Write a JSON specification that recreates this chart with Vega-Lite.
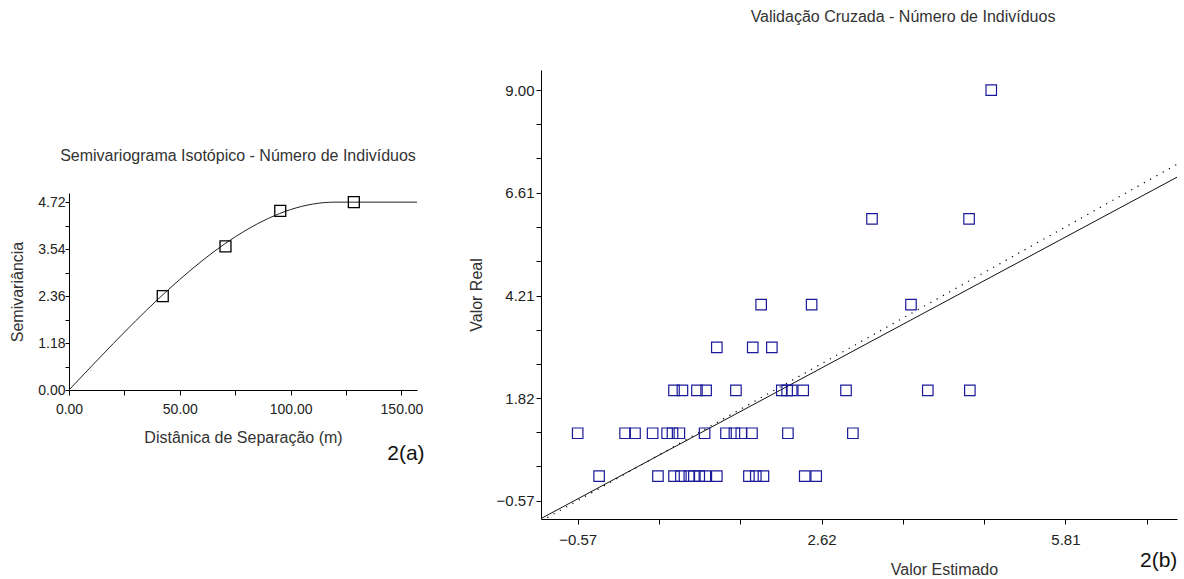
{
  "$schema": "https://vega.github.io/schema/vega-lite/v6.json",
  "background": "white",
  "padding": {"left": 9, "top": 9, "right": 0, "bottom": 0},
  "config": {
    "view": {"stroke": null},
    "font": "Liberation Sans",
    "axis": {
      "domainColor": "#000000",
      "tickColor": "#000000",
      "grid": false,
      "tickSize": 5,
      "labelOverlap": false,
      "labelColor": "#222222",
      "titleColor": "#333333",
      "titleFontWeight": "normal",
      "labelFont": "Liberation Sans",
      "titleFont": "Liberation Sans"
    },
    "title": {"font": "Liberation Sans", "fontWeight": "normal", "fontSize": 16, "color": "#333333"}
  },
  "datasets": {
    "curve": [
      {"h": 0, "gamma": 0},
      {"h": 10, "gamma": 0.589},
      {"h": 20, "gamma": 1.169},
      {"h": 30, "gamma": 1.733},
      {"h": 40, "gamma": 2.273},
      {"h": 50, "gamma": 2.779},
      {"h": 60, "gamma": 3.245},
      {"h": 70, "gamma": 3.662},
      {"h": 80, "gamma": 4.021},
      {"h": 90, "gamma": 4.314},
      {"h": 100, "gamma": 4.534},
      {"h": 110, "gamma": 4.672},
      {"h": 115, "gamma": 4.708},
      {"h": 120, "gamma": 4.72},
      {"h": 157, "gamma": 4.72}
    ],
    "experimental": [
      {"h": 42.3, "gamma": 2.36},
      {"h": 70.6, "gamma": 3.61},
      {"h": 95.3, "gamma": 4.5},
      {"h": 128.5, "gamma": 4.72}
    ],
    "validation": [
      {"x": -0.29, "y": 0}, {"x": 0.48, "y": 0}, {"x": 0.69, "y": 0}, {"x": 0.78, "y": 0},
      {"x": 0.89, "y": 0}, {"x": 0.95, "y": 0}, {"x": 1.02, "y": 0}, {"x": 1.10, "y": 0},
      {"x": 1.25, "y": 0}, {"x": 1.67, "y": 0}, {"x": 1.76, "y": 0}, {"x": 1.86, "y": 0},
      {"x": 2.40, "y": 0}, {"x": 2.55, "y": 0},
      {"x": -0.57, "y": 1}, {"x": 0.05, "y": 1}, {"x": 0.18, "y": 1}, {"x": 0.41, "y": 1},
      {"x": 0.60, "y": 1}, {"x": 0.67, "y": 1}, {"x": 0.76, "y": 1}, {"x": 1.09, "y": 1},
      {"x": 1.37, "y": 1}, {"x": 1.48, "y": 1}, {"x": 1.57, "y": 1}, {"x": 1.71, "y": 1},
      {"x": 2.18, "y": 1}, {"x": 3.03, "y": 1},
      {"x": 0.69, "y": 2}, {"x": 0.80, "y": 2}, {"x": 0.99, "y": 2}, {"x": 1.11, "y": 2},
      {"x": 1.50, "y": 2}, {"x": 2.10, "y": 2}, {"x": 2.17, "y": 2}, {"x": 2.23, "y": 2},
      {"x": 2.38, "y": 2}, {"x": 2.94, "y": 2}, {"x": 4.01, "y": 2}, {"x": 4.56, "y": 2},
      {"x": 1.25, "y": 3}, {"x": 1.72, "y": 3}, {"x": 1.97, "y": 3},
      {"x": 1.83, "y": 4}, {"x": 2.49, "y": 4}, {"x": 3.79, "y": 4},
      {"x": 3.28, "y": 6}, {"x": 4.55, "y": 6},
      {"x": 4.84, "y": 9}
    ],
    "bisector": [
      {"x": -1.05, "y": -1.05},
      {"x": 7.27, "y": 7.27}
    ],
    "regression": [
      {"x": -1.05, "y": -0.99},
      {"x": 7.27, "y": 6.97}
    ]
  },
  "spacing": 43,
  "hconcat": [
    {
      "spacing": 0,
      "vconcat": [
        {
          "width": 348,
          "height": 78,
          "data": {"values": [{}]},
          "mark": {"type": "text", "text": ""},
          "encoding": {}
        },
        {
          "width": 348,
          "height": 197,
          "title": {"text": "Semivariograma Isotópico - Número de Indivíduos", "offset": 29, "fontSize": 16, "dx": -5},
          "layer": [
            {
              "data": {"name": "curve"},
              "mark": {"type": "line", "color": "#222222", "strokeWidth": 1, "interpolate": "monotone"},
              "encoding": {
                "x": {
                  "field": "h", "type": "quantitative",
                  "scale": {"domain": [0, 157], "nice": false, "zero": false},
                  "axis": {
                    "title": "Distânica de Separação (m)",
                    "titleFontSize": 16,
                    "titlePadding": 13,
                    "labelFontSize": 14,
                    "labelPadding": 7,
                    "labelOverlap": false,
                    "tickCount": 20,
                    "values": [0, 25, 50, 75, 100, 125, 150],
                    "labelExpr": "datum.value % 50 == 0 ? format(datum.value, '.2f') : ''",
                    "labelFlush": false
                  }
                },
                "y": {
                  "field": "gamma", "type": "quantitative",
                  "scale": {"domain": [0, 4.95], "nice": false, "zero": false},
                  "axis": {
                    "title": "Semivariância",
                    "titleFontSize": 16,
                    "titlePadding": 12,
                    "labelFontSize": 14,
                    "tickSize": 4,
                    "labelPadding": 0,
                    "labelOverlap": false,
                    "tickCount": 20,
                    "values": [0, 0.59, 1.18, 1.77, 2.36, 2.95, 3.54, 4.13, 4.72],
                    "labelExpr": "round(datum.value / 0.59) % 2 == 0 ? format(datum.value, '.2f') : ''",
                    "labelFlush": false
                  }
                }
              }
            },
            {
              "data": {"name": "experimental"},
              "mark": {"type": "point", "shape": "square", "filled": false, "color": "#000000", "strokeWidth": 1.3, "size": 120, "opacity": 1},
              "encoding": {
                "x": {"field": "h", "type": "quantitative"},
                "y": {"field": "gamma", "type": "quantitative"}
              }
            },
            {
              "data": {"values": [{}]},
              "mark": {"type": "text", "text": "2(a)", "fontSize": 21, "color": "#111111", "align": "center", "baseline": "middle", "clip": false},
              "encoding": {
                "x": {"datum": 152},
                "y": {"datum": -1.6}
              }
            }
          ]
        }
      ]
    },
    {
      "width": 636,
      "height": 449,
      "title": {"text": "Validação Cruzada - Número de Indivíduos", "offset": 45, "fontSize": 16, "dx": 44},
      "layer": [
        {
          "data": {"name": "bisector"},
          "mark": {"type": "line", "color": "#000000", "strokeWidth": 1.2, "strokeDash": [1.2, 6], "clip": true},
          "encoding": {
            "x": {
              "field": "x", "type": "quantitative",
              "scale": {"domain": [-1.05, 7.27], "nice": false, "zero": false},
              "axis": {
                "title": "Valor Estimado",
                "titleFontSize": 16,
                "titlePadding": 14,
                "titleX": 403,
                "labelFontSize": 15,
                "labelPadding": 8,
                "labelOverlap": false,
                "tickCount": 20,
                "values": [-0.57, 0.4933, 1.5567, 2.62, 3.6833, 4.7467, 5.81, 6.8733],
                "labelExpr": "indexof([-0.57, 2.62, 5.81], datum.value) >= 0 ? format(datum.value, '.2f') : ''",
                "labelFlush": false
              }
            },
            "y": {
              "field": "y", "type": "quantitative",
              "scale": {"domain": [-1.0, 9.47], "nice": false, "zero": false},
              "axis": {
                "title": "Valor Real",
                "titleFontSize": 16,
                "titlePadding": 12,
                "labelFontSize": 15,
                "labelOverlap": false,
                "tickCount": 20,
                "values": [-0.57, 0.2267, 1.0233, 1.82, 2.6167, 3.4133, 4.21, 5.0067, 5.8033, 6.61, 7.4067, 8.2033, 9.0],
                "labelExpr": "indexof([-0.57, 1.82, 4.21, 6.61, 9.0], datum.value) >= 0 ? format(datum.value, '.2f') : ''",
                "labelFlush": false
              }
            }
          }
        },
        {
          "data": {"name": "regression"},
          "mark": {"type": "line", "color": "#111111", "strokeWidth": 1, "clip": true},
          "encoding": {
            "x": {"field": "x", "type": "quantitative"},
            "y": {"field": "y", "type": "quantitative"}
          }
        },
        {
          "data": {"name": "validation"},
          "mark": {"type": "point", "shape": "square", "filled": false, "color": "#1a1a99", "strokeWidth": 1.2, "size": 110, "opacity": 1},
          "encoding": {
            "x": {"field": "x", "type": "quantitative"},
            "y": {"field": "y", "type": "quantitative"}
          }
        },
        {
          "data": {"values": [{}]},
          "mark": {"type": "text", "text": "2(b)", "fontSize": 21, "color": "#111111", "align": "center", "baseline": "middle", "clip": false},
          "encoding": {
            "x": {"datum": 7.03},
            "y": {"datum": -1.97}
          }
        }
      ]
    }
  ]
}
